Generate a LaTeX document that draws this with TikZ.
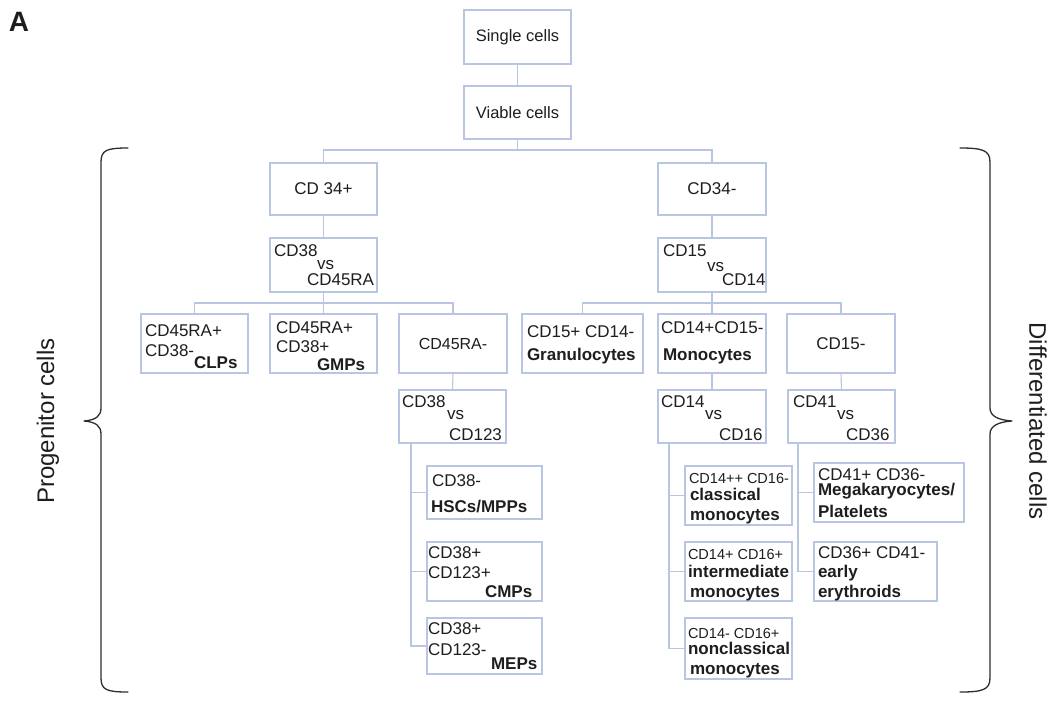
\documentclass[tikz,border=0pt]{standalone}
\usepackage{fontspec}
\setmainfont{Liberation Sans}
\definecolor{boxc}{RGB}{184,198,226}
\definecolor{txtc}{RGB}{30,30,30}
\definecolor{bracec}{RGB}{45,45,45}
\newcommand\fsz[1]{\fontsize{#1}{#1}\selectfont}
\newcommand\bx[6]{\node[box, minimum width={(#4)-(#2)}, minimum height={(#5)-(#3)}] (#1) at ({((#2)+(#4))/2},{((#3)+(#5))/2}) {#6};}
\begin{document}
\begin{tikzpicture}[x=1pt,y=-1pt,
  box/.style={draw=boxc, line width=1.1pt, inner sep=0pt, outer sep=0pt, fill=white, text=txtc, font=\fsz{17}},
  conn/.style={draw=boxc, line width=1.1pt},
  txt/.style={inner sep=0pt, outer sep=0pt, text=txtc, anchor=base west, font=\fsz{17}},
  btxt/.style={txt, font=\fsz{17}\bfseries},
  stxt/.style={txt, font=\fsz{14.5}},
  brace/.style={draw=bracec, line width=1.3pt, line cap=round, line join=round},
  side/.style={text=txtc, font=\fsz{24}, inner sep=0pt}]
\useasboundingbox (0,0) rectangle (1052,702);

\node[text=txtc, font=\fsz{28}\bfseries, inner sep=0pt] (lblA) at (19,22) {A};

% boxes
\bx{single}{464}{10}{571}{64}{\fsz{16.5}Single cells}
\bx{viable}{464}{86}{571}{139}{\fsz{16.5}Viable cells}
\bx{cdp}{270}{163}{377}{215}{CD 34+}
\bx{cdm}{658}{163}{766}{215}{CD34-}
\bx{vsa}{270}{238}{377}{292}{}
\bx{vsb}{658}{238}{766}{292}{}
\bx{clp}{141}{314}{248}{373}{}
\bx{gmp}{270}{314}{377}{373}{}
\bx{ram}{399}{314}{507}{373}{\fsz{16}CD45RA-}
\bx{gran}{522}{314}{643}{373}{}
\bx{mono}{658}{314}{766}{373}{}
\bx{cdfm}{787}{314}{895}{373}{CD15-}
\bx{vsc}{399}{390}{506}{443}{}
\bx{vsd}{658}{390}{766}{443}{}
\bx{vse}{788}{390}{895}{443}{}
\bx{hsc}{427}{466}{542}{519}{}
\bx{cmp}{427}{542}{542}{601}{}
\bx{mep}{427}{618}{542}{674}{}
\bx{clas}{685}{466}{792}{525}{}
\bx{inter}{685}{542}{792}{601}{}
\bx{nonc}{685}{618}{792}{679}{}
\bx{mega}{814}{463}{964}{522}{}
\bx{ery}{814}{542}{937}{601}{}

% texts
\node[txt] (t1) at (274,256) {CD38};
\node[txt] (t2) at (317,269) {vs};
\node[txt] (t3) at (307,285) {CD45RA};
\node[txt] (t4) at (663,256) {CD15};
\node[txt] (t5) at (707,271) {vs};
\node[txt] (t6) at (722,285) {CD14};
\node[txt] (t7) at (145,336) {CD45RA+};
\node[txt] (t8) at (145,356) {CD38-};
\node[btxt] (t9) at (194,368) {CLPs};
\node[txt] (t10) at (276,333) {CD45RA+};
\node[txt] (t11) at (276,352) {CD38+};
\node[btxt] (t12) at (317,370) {GMPs};
\node[txt] (t13) at (527,337) {CD15+ CD14-};
\node[btxt] (t14) at (527,360) {Granulocytes};
\node[txt] (t15) at (661,333) {CD14+CD15-};
\node[btxt] (t16) at (663,360) {Monocytes};
\node[txt] (t17) at (402,407) {CD38};
\node[txt] (t18) at (447,419) {vs};
\node[txt] (t19) at (449,440) {CD123};
\node[txt] (t20) at (661,407) {CD14};
\node[txt] (t21) at (705,419) {vs};
\node[txt] (t22) at (719,440) {CD16};
\node[txt] (t23) at (793,407) {CD41};
\node[txt] (t24) at (837,419) {vs};
\node[txt] (t25) at (846,440) {CD36};
\node[txt] (t26) at (432,486) {CD38-};
\node[btxt] (t27) at (431,512) {HSCs/MPPs};
\node[txt] (t28) at (428,558) {CD38+};
\node[txt] (t29) at (428,578) {CD123+};
\node[btxt] (t30) at (485,597) {CMPs};
\node[txt] (t31) at (428,634) {CD38+};
\node[txt] (t32) at (428,655) {CD123-};
\node[btxt] (t33) at (491,669) {MEPs};
\node[stxt] (t34) at (689,483) {CD14++ CD16-};
\node[btxt] (t35) at (690,500) {classical};
\node[btxt] (t36) at (690,520) {monocytes};
\node[stxt] (t37) at (688,559) {CD14+ CD16+};
\node[btxt] (t38) at (688,577) {intermediate};
\node[btxt] (t39) at (690,597) {monocytes};
\node[stxt] (t40) at (688,638) {CD14- CD16+};
\node[btxt] (t41) at (688,654) {nonclassical};
\node[btxt] (t42) at (690,674) {monocytes};
\node[txt] (t43) at (818,480) {CD41+ CD36-};
\node[btxt] (t44) at (818,495) {Megakaryocytes/};
\node[btxt] (t45) at (818,517) {Platelets};
\node[txt] (t46) at (818,558) {CD36+ CD41-};
\node[btxt] (t47) at (818,577) {early};
\node[btxt] (t48) at (818,597) {erythroids};

% connectors
\coordinate (bus1) at (517.5,150);
\coordinate (bus2) at (323.5,303);
\coordinate (bus3) at (712,303);
\draw[conn] (single.south) -- (viable.north);
\draw[conn] (viable.south) -- (bus1);
\draw[conn] (cdp.north) |- (bus1) -| (cdm.north);
\draw[conn] (cdp.south) -- (vsa.north);
\draw[conn] (cdm.south) -- (vsb.north);
\draw[conn] (vsa.south) -- (bus2);
\draw[conn] (clp.north) |- (bus2) -| (ram.north);
\draw[conn] (gmp.north) -- (bus2);
\draw[conn] (vsb.south) -- (bus3);
\draw[conn] (gran.north) |- (bus3) -| (cdfm.north);
\draw[conn] (mono.north) -- (bus3);
\draw[conn] (ram.south) -- (vsc.north);
\draw[conn] (mono.south) -- (vsd.north);
\draw[conn] (cdfm.south) -- (vse.north);
\coordinate (sc) at ([xshift=12pt]vsc.south west);
\coordinate (sd) at ([xshift=11pt]vsd.south west);
\coordinate (se) at ([xshift=10pt]vse.south west);
\draw[conn] (sc) |- (mep.west);
\draw[conn] (sc |- hsc.west) -- (hsc.west);
\draw[conn] (sc |- cmp.west) -- (cmp.west);
\draw[conn] (sd) |- (nonc.west);
\draw[conn] (sd |- clas.west) -- (clas.west);
\draw[conn] (sd |- inter.west) -- (inter.west);
\draw[conn] (se) |- (ery.west);
\draw[conn] (se |- mega.west) -- (mega.west);

% braces
\draw[brace] (128,148) .. controls (107,148) and (101,150) .. (101,162) -- (101,408)
  .. controls (101,416) and (96,420) .. (84,421) .. controls (96,422) and (101,426) .. (101,434)
  -- (101,678) .. controls (101,690) and (107,692) .. (128,692);
\draw[brace] (960,148) .. controls (982,148) and (990,150) .. (990,162) -- (990,408)
  .. controls (990,416) and (998,420) .. (1012,421) .. controls (998,422) and (990,426) .. (990,434)
  -- (990,678) .. controls (990,690) and (982,692) .. (960,692);
\node[side, rotate=90] (prog) at (48,421) {Progenitor cells};
\node[side, rotate=-90] (diff) at (1038,421) {Differentiated cells};
\end{tikzpicture}
\end{document}
